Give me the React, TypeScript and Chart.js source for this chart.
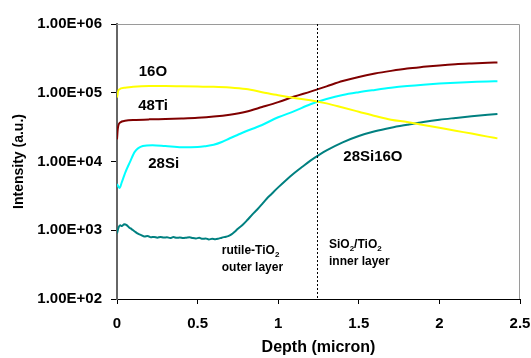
import React, { useEffect, useRef } from "react";
import { Chart, registerables } from "chart.js";

Chart.register(...registerables);

// ---- data ----
const o16Depth = [0, 0.01, 0.05, 0.1, 0.2, 0.3, 0.4, 0.5, 0.6, 0.7, 0.8, 0.9, 1.0, 1.1, 1.2, 1.3, 1.4, 1.5, 1.6, 1.7, 1.8, 1.9, 2.0, 2.1, 2.2, 2.3, 2.36];
const o16Values = [85000, 110000, 118000, 122000, 125000, 125000, 124000, 123000, 122000, 119000, 113000, 102000, 92000, 84000, 78000, 70000, 61000, 53000, 46000, 40500, 37500, 34000, 31000, 28000, 25500, 23000, 21700];

const ti48Depth = [0, 0.005, 0.02, 0.05, 0.1, 0.2, 0.3, 0.4, 0.5, 0.6, 0.7, 0.8, 0.9, 1.0, 1.1, 1.2, 1.3, 1.4, 1.5, 1.6, 1.7, 1.8, 1.9, 2.0, 2.1, 2.2, 2.3, 2.36];
const ti48Values = [21000, 30000, 37000, 39000, 40000, 41000, 41500, 42200, 43200, 45000, 48000, 53000, 62000, 73000, 88000, 104000, 124000, 148000, 170000, 190000, 208000, 225000, 238000, 250000, 260000, 267000, 273000, 276000];

const si28Depth = [0, 0.015, 0.03, 0.05, 0.08, 0.11, 0.16, 0.22, 0.3, 0.4, 0.5, 0.55, 0.6, 0.65, 0.7, 0.75, 0.8, 0.85, 0.9, 1.0, 1.1, 1.2, 1.3, 1.4, 1.5, 1.6, 1.7, 1.8, 1.9, 2.0, 2.1, 2.2, 2.3, 2.36];
const si28Values = [4700, 4100, 5000, 6800, 9800, 13800, 16800, 17300, 16800, 16100, 16200, 16700, 17500, 19200, 21800, 24500, 27500, 30500, 34000, 44000, 54000, 68000, 81000, 93000, 102000, 110000, 118000, 125000, 131000, 136000, 140000, 143000, 146000, 147000];

const sio16Depth = [0, 0.01, 0.02, 0.03, 0.045, 0.06, 0.075, 0.09, 0.11, 0.13, 0.15, 0.17, 0.19, 0.21, 0.23, 0.25, 0.27, 0.29, 0.31, 0.33, 0.35, 0.37, 0.39, 0.41, 0.43, 0.45, 0.47, 0.49, 0.51, 0.53, 0.55, 0.57, 0.59, 0.61, 0.63, 0.65, 0.67, 0.69, 0.71, 0.73, 0.75, 0.78, 0.81, 0.84, 0.87, 0.9, 0.93, 0.96, 1.0, 1.05, 1.1, 1.15, 1.2, 1.25, 1.3, 1.4, 1.5, 1.6, 1.7, 1.8, 1.9, 2.0, 2.1, 2.2, 2.3, 2.36];
const sio16Values = [900, 1100, 1180, 1150, 1220, 1190, 1100, 1040, 960, 890, 850, 810, 825, 790, 800, 780, 800, 785, 790, 770, 795, 775, 785, 770, 780, 790, 770, 760, 775, 750, 760, 735, 750, 740, 755, 780, 800, 820, 870, 950, 1050, 1200, 1420, 1700, 2000, 2400, 2900, 3400, 4200, 5400, 6800, 8400, 10300, 12300, 14500, 19000, 23500, 27500, 31000, 34200, 37500, 40500, 43000, 45500, 47800, 49000];

const seriesNames = ["16O", "48Ti", "28Si", "28Si16O"];
const xTickValues = [0, 0.5, 1, 1.5, 2, 2.5];
const xTickLabels = ["0", "0.5", "1", "1.5", "2", "2.5"];
const yTickValues = [100, 1000, 10000, 100000, 1000000];
const yTickLabels = ["1.00E+02", "1.00E+03", "1.00E+04", "1.00E+05", "1.00E+06"];
const interfaceDepth = 1.24;

const FONT = "'Liberation Sans', Arial, Helvetica, sans-serif";

const toPoints = (xs: number[], ys: number[]) => xs.map((x, i) => ({ x, y: ys[i] }));

type Part = { t: string; sub?: boolean };
const seriesLabels: { parts: Part[]; x: number; y: number; size: number }[] = [
  { parts: [{ t: "16O" }], x: 0.135, y: 200000, size: 15 },
  { parts: [{ t: "48Ti" }], x: 0.132, y: 64000, size: 15 },
  { parts: [{ t: "28Si" }], x: 0.194, y: 9200, size: 15 },
  { parts: [{ t: "28Si16O" }], x: 1.404, y: 11700, size: 15 },
  { parts: [{ t: "rutile-TiO" }, { t: "2", sub: true }], x: 0.65, y: 500, size: 12 },
  { parts: [{ t: "outer layer" }], x: 0.65, y: 283, size: 12 },
  { parts: [{ t: "SiO" }, { t: "2", sub: true }, { t: "/TiO" }, { t: "2", sub: true }], x: 1.315, y: 610, size: 12 },
  { parts: [{ t: "inner layer" }], x: 1.315, y: 350, size: 12 },
];

const overlayPlugin = {
  id: "overlay",
  afterDatasetsDraw(chart: any) {
    const { ctx, chartArea, scales } = chart;
    const xs = scales.x;
    const ys = scales.y;
    ctx.save();
    ctx.strokeStyle = "#9a9a9a";
    ctx.lineWidth = 1;
    ctx.beginPath();
    ctx.moveTo(chartArea.left, chartArea.top + 0.5);
    ctx.lineTo(chartArea.right - 0.5, chartArea.top + 0.5);
    ctx.lineTo(chartArea.right - 0.5, chartArea.bottom);
    ctx.stroke();
    const px = Math.round(xs.getPixelForValue(interfaceDepth)) + 0.5;
    ctx.strokeStyle = "#000";
    ctx.setLineDash([2, 2]);
    ctx.beginPath();
    ctx.moveTo(px, chartArea.top);
    ctx.lineTo(px, chartArea.bottom);
    ctx.stroke();
    ctx.setLineDash([]);
    ctx.fillStyle = "#000";
    ctx.textBaseline = "middle";
    ctx.textAlign = "left";
    for (const lab of seriesLabels) {
      let x = xs.getPixelForValue(lab.x);
      const y = ys.getPixelForValue(lab.y);
      for (const p of lab.parts) {
        const size = p.sub ? Math.round(lab.size * 0.7) : lab.size;
        ctx.font = `bold ${size}px ${FONT}`;
        ctx.fillText(p.t, x, p.sub ? y + lab.size * 0.3 : y);
        x += ctx.measureText(p.t).width;
      }
    }
    ctx.restore();
  },
};

export default function App() {
  const ref = useRef<HTMLCanvasElement | null>(null);
  useEffect(() => {
    if (!ref.current) return;
    const colors = ["#ffff00", "#800000", "#00ffff", "#008080"];
    const chart = new Chart(ref.current, {
      type: "line",
      data: {
        datasets: [
          { label: seriesNames[0], data: toPoints(o16Depth, o16Values), borderColor: colors[0] },
          { label: seriesNames[1], data: toPoints(ti48Depth, ti48Values), borderColor: colors[1] },
          { label: seriesNames[2], data: toPoints(si28Depth, si28Values), borderColor: colors[2] },
          { label: seriesNames[3], data: toPoints(sio16Depth, sio16Values), borderColor: colors[3] },
        ].map((d) => ({
          ...d,
          borderWidth: 2,
          pointRadius: 0,
          fill: false,
          cubicInterpolationMode: "monotone" as const,
        })),
      },
      options: {
        animation: false,
        responsive: false,
        maintainAspectRatio: false,
        layout: { padding: { left: 0, top: 24, right: 11, bottom: 0 } },
        plugins: { legend: { display: false }, tooltip: { enabled: false } },
        scales: {
          x: {
            type: "linear",
            min: 0,
            max: 2.5,
            afterBuildTicks: (s: any) => {
              s.ticks = xTickValues.map((v) => ({ value: v }));
            },
            ticks: {
              color: "#000",
              font: { family: FONT, size: 15, weight: "bold" },
              padding: 11,
              maxRotation: 0,
              autoSkip: false,
              callback: (v: any) => {
                const i = xTickValues.indexOf(Number(v));
                return i >= 0 ? xTickLabels[i] : "";
              },
            },
            grid: { drawOnChartArea: false, color: "#000", tickLength: 5 },
            border: { color: "#000", width: 1 },
            title: {
              display: true,
              text: "Depth (micron)",
              color: "#000",
              font: { family: FONT, size: 16, weight: "bold" },
              padding: { top: 0, bottom: 1 },
            },
            afterFit: (s: any) => {
              s.height = 59;
              s.paddingLeft = 0;
              s.paddingRight = 0;
            },
          },
          y: {
            type: "logarithmic",
            min: 100,
            max: 1000000,
            afterBuildTicks: (s: any) => {
              s.ticks = yTickValues.map((v) => ({ value: v }));
            },
            ticks: {
              color: "#000",
              font: { family: FONT, size: 15, weight: "bold" },
              padding: 9,
              autoSkip: false,
              callback: (v: any) => {
                const i = yTickValues.indexOf(Number(v));
                return i >= 0 ? yTickLabels[i] : "";
              },
            },
            grid: { drawOnChartArea: false, color: "#000", tickLength: 6 },
            border: { color: "#666", width: 2 },
            title: {
              display: true,
              text: "Intensity (a.u.)",
              color: "#000",
              font: { family: FONT, size: 14, weight: "bold" },
              padding: { top: 11, bottom: 0 },
            },
            afterFit: (s: any) => {
              s.width = 117;
              s.paddingTop = 0;
              s.paddingBottom = 0;
            },
          },
        },
      },
      plugins: [overlayPlugin],
    });
    return () => chart.destroy();
  }, []);
  return (
    <div style={{ position: "fixed", left: 0, top: 0, width: 531, height: 358, background: "#fff" }}>
      <canvas ref={ref} width={531} height={358} style={{ display: "block" }} />
    </div>
  );
}
